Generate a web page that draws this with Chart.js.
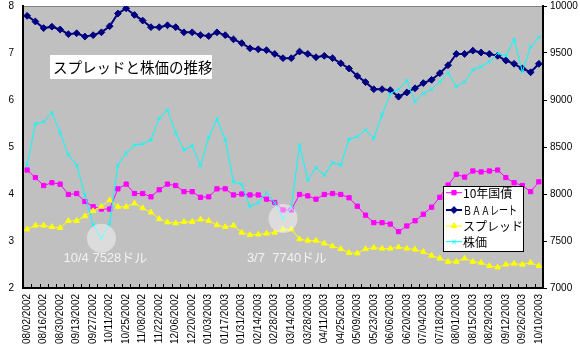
<!DOCTYPE html>
<html><head><meta charset="utf-8">
<script src="https://cdn.jsdelivr.net/npm/chart.js@4/dist/chart.umd.min.js"></script>
<style>html,body{margin:0;padding:0;background:#fff}#wrap{width:580px;height:355px;position:relative}</style>
</head><body><div id="wrap"><canvas id="c" width="580" height="355"></canvas></div>
<script>
const dates = ['08/02/2002','08/09/2002','08/16/2002','08/23/2002','08/30/2002','09/06/2002','09/13/2002','09/20/2002','09/27/2002','10/04/2002','10/11/2002','10/18/2002','10/25/2002','11/01/2002','11/08/2002','11/15/2002','11/22/2002','11/29/2002','12/06/2002','12/13/2002','12/20/2002','12/27/2002',
'01/03/2003','01/10/2003','01/17/2003','01/24/2003','01/31/2003','02/07/2003','02/14/2003','02/21/2003','02/28/2003','03/07/2003','03/14/2003','03/21/2003','03/28/2003','04/04/2003','04/11/2003','04/18/2003','04/25/2003','05/02/2003','05/09/2003','05/16/2003','05/23/2003','05/30/2003','06/06/2003','06/13/2003','06/20/2003','06/27/2003','07/04/2003','07/11/2003','07/18/2003','07/25/2003','08/01/2003','08/08/2003','08/15/2003','08/22/2003','08/29/2003','09/05/2003','09/12/2003','09/19/2003','09/26/2003','10/03/2003','10/10/2003'];
const jgb10 = [4.51,4.35,4.18,4.24,4.21,3.99,4.01,3.84,3.73,3.68,3.68,4.11,4.21,4.01,4.01,3.94,4.09,4.21,4.18,4.05,4.05,3.93,3.94,4.11,4.11,3.98,4.00,3.98,3.98,3.89,3.82,3.66,3.66,3.99,3.96,3.89,3.99,4.01,3.99,3.92,3.74,3.55,3.39,3.39,3.36,3.20,3.32,3.43,3.57,3.72,3.93,4.19,4.42,4.36,4.49,4.47,4.49,4.51,4.35,4.24,4.18,4.05,4.26];
const baa = [7.79,7.67,7.53,7.56,7.50,7.40,7.42,7.35,7.38,7.44,7.57,7.84,7.95,7.81,7.69,7.55,7.55,7.59,7.55,7.44,7.44,7.38,7.36,7.44,7.38,7.29,7.21,7.10,7.08,7.06,6.98,6.89,6.89,7.03,6.98,6.91,6.94,6.89,6.78,6.67,6.51,6.38,6.23,6.23,6.21,6.07,6.16,6.25,6.36,6.43,6.57,6.74,6.98,6.98,7.05,7.01,6.98,6.94,6.84,6.77,6.67,6.59,6.77];
const spread = [3.25,3.33,3.33,3.30,3.28,3.43,3.43,3.53,3.64,3.73,3.87,3.73,3.73,3.80,3.70,3.61,3.47,3.40,3.38,3.41,3.41,3.46,3.43,3.34,3.30,3.33,3.18,3.13,3.14,3.16,3.18,3.25,3.25,3.04,3.01,3.01,2.95,2.89,2.83,2.75,2.74,2.83,2.86,2.84,2.84,2.87,2.84,2.82,2.77,2.69,2.63,2.56,2.56,2.63,2.56,2.54,2.47,2.44,2.50,2.52,2.50,2.54,2.47];
const stock = [8308,8745,8770,8865,8652,8415,8308,7989,7670,7528,7688,8308,8436,8521,8532,8575,8805,8894,8649,8468,8516,8298,8603,8795,8582,8131,8103,7865,7908,8014,7908,7740,7848,8521,8149,8280,8202,8333,8308,8583,8610,8681,8592,8840,9068,9114,9206,8982,9071,9114,9195,9290,9142,9195,9319,9355,9407,9496,9468,9645,9301,9567,9667];
const seriesNames = ['10年国債','ＢＡＡレート','スプレッド','株価'];
const leftTicks = [2,3,4,5,6,7,8];
const rightTicks = [7000,7500,8000,8500,9000,9500,10000];
const chartTitle = 'スプレッドと株価の推移';
const noteIndex = [9,31];
const noteText = ['10/4 7528ドル','3/7  7740ドル'];

const colors = ['#FF00FF','#000080','#FFFF00','#00FFFF'];
const styles = ['rect','rectRot','triangle','crossRot'];
const radii = [3,3.4,3.2,2.5];
const lineW = [1,2,1,1];
const tickFont = {family:'"Liberation Sans", Arial, sans-serif', size:10};
const jpFont = '"Noto Sans CJK JP", sans-serif';

function marker(ctx, i, x, y){
  ctx.save();
  ctx.fillStyle = colors[i]; ctx.strokeStyle = colors[i]; ctx.lineWidth = 1;
  if (Chart.helpers && Chart.helpers.drawPoint) {
    Chart.helpers.drawPoint(ctx, {pointStyle: styles[i], radius: radii[i], rotation: 0, borderWidth: 1}, x, y);
  } else {
    ctx.fillRect(x-2.5, y-2.5, 5, 5);
  }
  ctx.restore();
}

const deco = {
  id: 'deco',
  beforeDraw(chart){
    const {ctx, chartArea:a} = chart;
    ctx.save();
    ctx.fillStyle = '#fff'; ctx.fillRect(0,0,chart.width,chart.height);
    ctx.fillStyle = '#C0C0C0'; ctx.fillRect(a.left, a.top, a.right-a.left, a.bottom-a.top);
    ctx.strokeStyle = '#808080'; ctx.lineWidth = 1;
    ctx.beginPath(); ctx.moveTo(a.left, a.top+0.5); ctx.lineTo(a.right, a.top+0.5); ctx.stroke();
    ctx.restore();
  },
  afterDatasetsDraw(chart){
    const {ctx, chartArea:a} = chart;
    const xs = chart.scales.x, y2 = chart.scales.y2;
    ctx.save();
    noteIndex.forEach((idx, k) => {
      const px = xs.getPixelForValue(idx), py = y2.getPixelForValue(stock[idx]);
      ctx.fillStyle = 'rgba(255,255,255,0.45)';
      ctx.beginPath(); ctx.arc(px, py, 14.5, 0, Math.PI*2); ctx.fill();
      ctx.fillStyle = '#F2F2F2';
      ctx.font = '13px "Liberation Sans", "Noto Sans CJK JP", sans-serif';
      ctx.textAlign = 'center'; ctx.textBaseline = 'middle';
      ctx.fillText(noteText[k], px + 4, a.top + 252);
    });
    const step = xs.getPixelForValue(1) - xs.getPixelForValue(0);
    ctx.strokeStyle = '#000'; ctx.lineWidth = 1;
    ctx.beginPath();
    for (let i = 0; i <= dates.length; i++) {
      const x = Math.round(xs.getPixelForValue(0) - step/2 + i*step) + 0.5;
      ctx.moveTo(x, a.bottom); ctx.lineTo(x, a.bottom - 4);
    }
    ctx.stroke();
    const tx = a.left + 27, ty = a.top + 49;
    ctx.fillStyle = '#fff'; ctx.fillRect(tx, ty, 162, 24);
    ctx.fillStyle = '#000'; ctx.font = '14.5px ' + jpFont;
    ctx.textAlign = 'left'; ctx.textBaseline = 'middle';
    ctx.fillText(chartTitle, tx + 3, ty + 12.5);
    const lx = a.right - 100, ly = a.top + 180;
    ctx.fillStyle = '#fff'; ctx.fillRect(lx, ly, 80, 65);
    ctx.strokeStyle = '#000'; ctx.lineWidth = 1; ctx.strokeRect(lx+0.5, ly+0.5, 80, 65);
    const rows = [6.7, 24, 40, 55.7];
    seriesNames.forEach((n, i) => {
      const yy = ly + rows[i];
      ctx.strokeStyle = colors[i]; ctx.lineWidth = lineW[i];
      ctx.beginPath(); ctx.moveTo(lx+3, yy); ctx.lineTo(lx+19, yy); ctx.stroke();
      marker(ctx, i, lx+11, yy);
      ctx.fillStyle = '#000'; ctx.font = '12px ' + jpFont;
      ctx.textAlign = 'left'; ctx.textBaseline = 'middle';
      ctx.fillText(n, lx + 20, yy + 0.5, i === 1 ? 54 : undefined);
    });
    ctx.restore();
  }
};

const series = [jgb10, baa, spread, stock];
const datasets = series.map((d, i) => ({
  label: seriesNames[i], data: d, yAxisID: i === 3 ? 'y2' : 'y',
  borderColor: colors[i], backgroundColor: colors[i], borderWidth: lineW[i],
  pointStyle: styles[i], pointRadius: radii[i], pointBorderWidth: 1,
  pointBackgroundColor: colors[i], pointBorderColor: colors[i],
  tension: 0, order: [3,2,1,0][i]
}));

new Chart(document.getElementById('c'), {
  type: 'line',
  data: { labels: dates, datasets },
  options: {
    responsive: false, animation: false, devicePixelRatio: 1,
    layout: { padding: { top: 6, left: 0, right: 0, bottom: 0 } },
    plugins: { legend: { display: false }, tooltip: { enabled: false } },
    scales: {
      x: {
        offset: true,
        afterFit(s){ s.height = 67; s.paddingLeft = 0; s.paddingRight = 0; },
        grid: { display: true, drawOnChartArea: false, drawTicks: false },
        border: { color: '#000', width: 2 },
        ticks: { autoSkip: false, maxRotation: 90, minRotation: 90, padding: 6, color: '#000', font: tickFont,
          callback(v, i){ return i % 2 === 0 ? dates[i] : ''; } }
      },
      y: {
        position: 'left', min: 2, max: 8,
        afterFit(s){ s.width = 23; s.paddingTop = 0; s.paddingBottom = 0; },
        afterBuildTicks(s){ s.ticks = leftTicks.map(v => ({value: v})); },
        grid: { display: true, drawOnChartArea: false, drawTicks: false },
        border: { color: '#000', width: 2 },
        ticks: { padding: 9, color: '#000', font: tickFont, callback(v){ return String(v); } }
      },
      y2: {
        position: 'right', min: 7000, max: 10000,
        afterFit(s){ s.width = 37; s.paddingTop = 0; s.paddingBottom = 0; },
        afterBuildTicks(s){ s.ticks = rightTicks.map(v => ({value: v})); },
        grid: { display: true, drawOnChartArea: false, drawTicks: true, tickLength: 4, color: '#000' },
        border: { color: '#000', width: 2 },
        ticks: { padding: 3, color: '#000', font: tickFont, callback(v){ return String(v); } }
      }
    }
  },
  plugins: [deco]
});
</script></body></html>
